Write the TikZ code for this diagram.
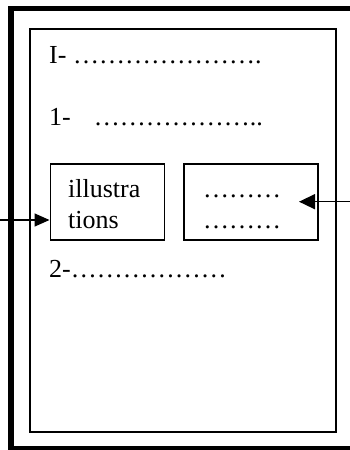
\documentclass[tikz,border=0pt]{standalone}
\usepackage{fontspec}
\setmainfont{Liberation Serif}
\usetikzlibrary{arrows.meta}
\newcommand\myell{…}
\begin{document}
\begin{tikzpicture}[x=1pt,y=-1pt,
  every node/.style={font=\fontsize{26}{30}\selectfont, inner sep=0pt},
  txt/.style={anchor=base west},
  boxnode/.style={draw, line width=1.6pt, anchor=north west, minimum width=114pt, minimum height=76pt},
  arr/.style={line width=1.5pt, -{Triangle[length=15pt,width=13pt]}}]
\useasboundingbox (0,0) rectangle (350,450);
\begin{scope}
  \clip (0,0) rectangle (350,450);
  \draw[line width=5.5pt] (11,8.5) rectangle (400,449);
\end{scope}
\draw[line width=2pt] (30,28.7) rectangle (336,431.5);
\node[txt] (h1) at (49,63.3) {I- \myell\myell\myell\myell\myell\myell\myell.};
\node[txt] (h2) at (49,125.7) {1-\hspace{23pt}\myell\myell\myell\myell\myell\myell..};
\node[boxnode] (b1) at (49.5,163) {};
\node[boxnode, minimum width=134pt] (b2) at (183.3,163) {};
\node[txt] (t1) at (68,197.5) {illustra};
\node[txt] (t2) at (68,228) {tions};
\node[txt] (d1) at (203,197.5) {\myell\myell\myell};
\node[txt] (d2) at (203,228) {\myell\myell\myell};
\node[txt] (h3) at (49,277.7) {2-\myell\myell\myell\myell\myell\myell};
\coordinate (ls) at (0,220);
\coordinate (rs) at (350,201.7);
\coordinate (rt) at (299,201.7);
\draw[arr] (ls) -- (ls -| b1.west);
\draw[arr, -{Triangle[length=16pt,width=15pt]}] (rs) -- (rt);
\end{tikzpicture}
\end{document}
